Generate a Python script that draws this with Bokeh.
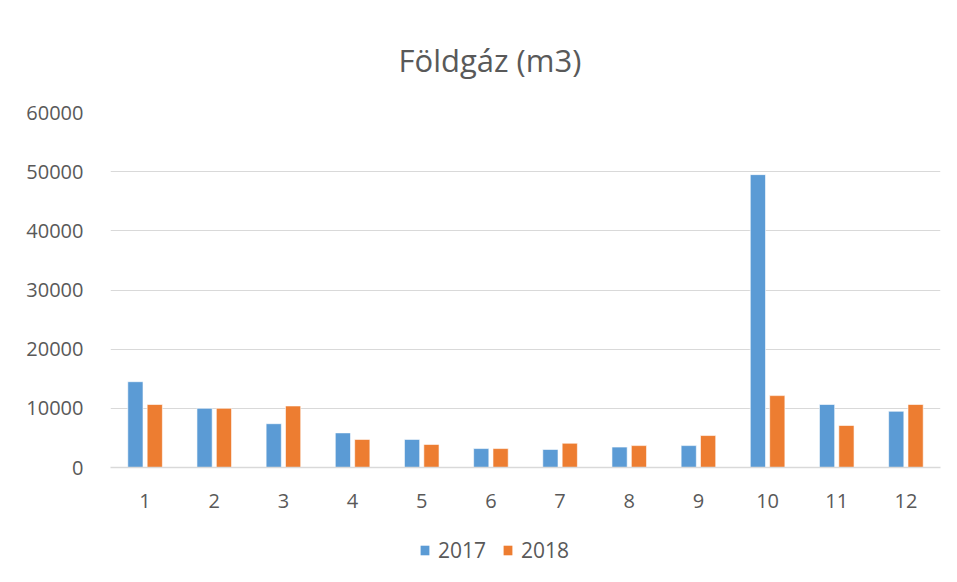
from bokeh.plotting import figure
from bokeh.layouts import column
from bokeh.models import Range1d, FixedTicker, Legend, LegendItem
from bokeh.embed import file_html
from bokeh.resources import INLINE

months = list(range(1, 13))
month_labels = [str(m) for m in months]
gas_2017 = [14500, 10000, 7400, 5850, 4750, 3200, 3050, 3450, 3700, 49500, 10650, 9500]
gas_2018 = [10650, 10000, 10400, 4750, 3900, 3200, 4100, 3700, 5400, 12150, 7100, 10650]
y_ticks = [0, 10000, 20000, 30000, 40000, 50000, 60000]
series_names = ["2017", "2018"]
title_text = "Földgáz (m3)"

BLUE = "#5B9BD5"
ORANGE = "#ED7D31"
GRAY = "#595959"
GRID = "#D9D9D9"
FONT = "Open Sans"

p = figure(width=955, height=525, output_backend="svg", toolbar_location=None,
           x_range=Range1d(0.5, 12.5), y_range=Range1d(0, 60000),
           min_border_left=110, min_border_right=15, min_border_top=112, min_border_bottom=58)
p.outline_line_color = None
p.background_fill_color = "white"
p.border_fill_color = "white"

x17 = [m - 0.14 for m in months]
x18 = [m + 0.14 for m in months]
r1 = p.vbar(x=x17, top=gas_2017, width=0.22, fill_color=BLUE, line_color="white", line_width=0.6)
r2 = p.vbar(x=x18, top=gas_2018, width=0.22, fill_color=ORANGE, line_color="white", line_width=0.6)

# title
p.title.text = title_text
p.title.align = "left"
p.title.offset = 288
p.title.standoff = 64
p.title.text_font = FONT
p.title.text_font_size = "31px"
p.title.text_font_style = "normal"
p.title.text_color = GRAY

# axes
p.xaxis.ticker = FixedTicker(ticks=months)
p.xaxis.major_label_overrides = {m: l for m, l in zip(months, month_labels)}
p.yaxis.ticker = FixedTicker(ticks=y_ticks)
for ax in (p.xaxis[0], p.yaxis[0]):
    ax.major_tick_line_color = None
    ax.minor_tick_line_color = None
    ax.major_label_text_color = GRAY
    ax.major_label_text_font = FONT
    ax.major_label_text_font_size = "20px"
p.xaxis.axis_line_color = GRID
p.xaxis.axis_line_width = 1.5
p.yaxis.axis_line_color = None
p.xaxis.major_label_standoff = 20
p.yaxis.major_label_standoff = 21
p.xgrid.grid_line_color = None
p.ygrid.grid_line_color = GRID
p.ygrid.ticker = FixedTicker(ticks=y_ticks)

# legend strip (separate figure directly below the chart)
pl = figure(width=955, height=55, output_backend="svg", toolbar_location=None,
            x_range=Range1d(0, 1), y_range=Range1d(0, 1),
            min_border_left=110, min_border_right=15, min_border_top=0, min_border_bottom=0)
pl.axis.visible = False
pl.grid.visible = False
pl.outline_line_color = None
pl.background_fill_color = "white"
pl.border_fill_color = "white"
# zero-height proxy bars: only their legend swatches are visible
l1 = pl.vbar(x=[0.5], top=[0], bottom=[0], width=0.01, fill_color=BLUE, line_color=None)
l2 = pl.vbar(x=[0.5], top=[0], bottom=[0], width=0.01, fill_color=ORANGE, line_color=None)
legend = Legend(items=[LegendItem(label=series_names[0], renderers=[l1]),
                       LegendItem(label=series_names[1], renderers=[l2])],
                location=(309, 16), orientation="horizontal",
                label_text_font=FONT, label_text_font_size="21px", label_text_color=GRAY,
                glyph_width=11, glyph_height=12, label_standoff=8, spacing=16,
                padding=0, margin=0, border_line_color=None, background_fill_alpha=0)
pl.add_layout(legend, "center")

layout = column(p, pl, spacing=0)

open("out.html", "w").write(file_html(layout, INLINE))
